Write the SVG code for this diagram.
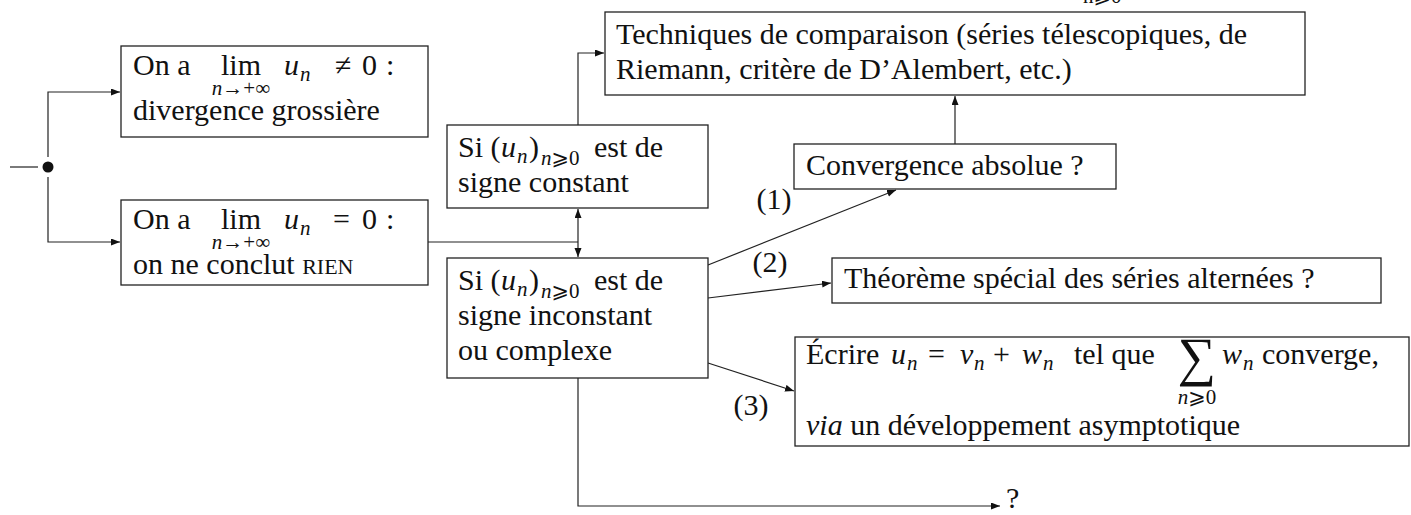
<svg xmlns="http://www.w3.org/2000/svg" width="1411" height="515" viewBox="0 0 1411 515">
<style>
.t{font-family:"Liberation Serif","DejaVu Serif","DejaVu Sans",serif;font-size:30px;fill:#111}
.i{font-style:italic}
.s{font-size:21px}
.box{fill:#fff;stroke:#222;stroke-width:1.3}
.ln{fill:none;stroke:#222;stroke-width:1.2}
.m{text-anchor:middle}
</style>
<defs>
<marker id="ah" markerUnits="userSpaceOnUse" markerWidth="10" markerHeight="8" refX="9" refY="3.5" orient="auto-start-reverse">
<path d="M0,0 L9,3.5 L0,7 z" fill="#111"/>
</marker>
</defs>
<rect width="1411" height="515" fill="#fff"/>

<g id="connectors">
<line class="ln" x1="10" y1="167" x2="38" y2="167"/>
<circle cx="48" cy="167" r="5.5" fill="#111"/>
<polyline class="ln" points="48,157 48,92 120,92" marker-end="url(#ah)"/>
<polyline class="ln" points="48,177 48,242 120,242" marker-end="url(#ah)"/>
<line class="ln" x1="428" y1="242" x2="578" y2="242"/>
<line class="ln" x1="578" y1="209" x2="578" y2="257" marker-start="url(#ah)" marker-end="url(#ah)"/>
<polyline class="ln" points="578,125 578,53 604,53" marker-end="url(#ah)"/>
<line class="ln" x1="955" y1="144" x2="955" y2="96" marker-end="url(#ah)"/>
<line class="ln" x1="708" y1="265" x2="896" y2="190" marker-end="url(#ah)"/>
<line class="ln" x1="708" y1="298" x2="831" y2="283" marker-end="url(#ah)"/>
<line class="ln" x1="708" y1="363" x2="794" y2="391" marker-end="url(#ah)"/>
<polyline class="ln" points="578,378 578,506 1000,506" marker-end="url(#ah)"/>
<text class="t" x="774" y="209" text-anchor="middle">(1)</text>
<text class="t" x="770" y="272" text-anchor="middle">(2)</text>
<text class="t" x="751" y="415" text-anchor="middle">(3)</text>
<text class="t" x="1006" y="508">?</text>
</g>

<text class="t s" x="1083" y="3">n⩾0</text>

<g id="n-div">
<rect class="box" x="121" y="46" width="307" height="91"/>
<text class="t" y="75"><tspan x="133">On a</tspan><tspan x="241" text-anchor="middle">lim</tspan><tspan x="241" y="95" class="s" text-anchor="middle"><tspan class="i">n</tspan>→+∞</tspan><tspan x="284" y="75" class="i">u</tspan><tspan x="300" y="81" class="s i">n</tspan><tspan x="335" y="75">≠</tspan><tspan x="362">0</tspan><tspan x="386">:</tspan><tspan x="133" y="120">divergence grossière</tspan></text>
</g>

<g id="n-zero">
<rect class="box" x="121" y="200" width="307" height="85"/>
<text class="t" y="229"><tspan x="133">On a</tspan><tspan x="241" text-anchor="middle">lim</tspan><tspan x="241" y="249" class="s" text-anchor="middle"><tspan class="i">n</tspan>→+∞</tspan><tspan x="284" y="229" class="i">u</tspan><tspan x="300" y="235" class="s i">n</tspan><tspan x="333" y="229">=</tspan><tspan x="362">0</tspan><tspan x="386">:</tspan><tspan x="133" y="274">on ne conclut <tspan font-size="22">RIEN</tspan></tspan></text>
</g>

<g id="n-const">
<rect class="box" x="447" y="125" width="261" height="83"/>
<text class="t" y="157"><tspan x="458">Si (</tspan><tspan x="501" class="i">u</tspan><tspan x="517" y="163" class="s i">n</tspan><tspan x="529" y="157">)</tspan><tspan x="541" y="165" class="s"><tspan class="i">n</tspan>⩾0</tspan><tspan x="594" y="157">est de</tspan><tspan x="458" y="192">signe constant</tspan></text>
</g>

<g id="n-inconst">
<rect class="box" x="447" y="258" width="261" height="120"/>
<text class="t" y="290"><tspan x="458">Si (</tspan><tspan x="501" class="i">u</tspan><tspan x="517" y="296" class="s i">n</tspan><tspan x="529" y="290">)</tspan><tspan x="541" y="298" class="s"><tspan class="i">n</tspan>⩾0</tspan><tspan x="594" y="290">est de</tspan><tspan x="458" y="325">signe inconstant</tspan><tspan x="458" y="360">ou complexe</tspan></text>
</g>

<g id="n-tech">
<rect class="box" x="605" y="12" width="700" height="83"/>
<text class="t" x="616" y="44">Techniques de comparaison (séries télescopiques, de<tspan x="616" y="79">Riemann, critère de D’Alembert, etc.)</tspan></text>
</g>

<g id="n-abs">
<rect class="box" x="794" y="144" width="322" height="45"/>
<text class="t" x="806" y="175">Convergence absolue ?</text>
</g>

<g id="n-alt">
<rect class="box" x="832" y="258" width="549" height="45"/>
<text class="t" x="844" y="288">Théorème spécial des séries alternées ?</text>
</g>

<g id="n-dev">
<rect class="box" x="795" y="337" width="614" height="109"/>
<text class="t" y="364"><tspan x="806">Écrire</tspan><tspan x="891" class="i">u</tspan><tspan x="907" y="370" class="s i">n</tspan><tspan x="928" y="364">=</tspan><tspan x="960" class="i">v</tspan><tspan x="974" y="370" class="s i">n</tspan><tspan x="993" y="364">+</tspan><tspan x="1022" class="i">w</tspan><tspan x="1043" y="370" class="s i">n</tspan><tspan x="1074" y="364">tel que</tspan><tspan x="1197" y="375" font-size="54" text-anchor="middle">∑</tspan><tspan x="1197" y="404" class="s" text-anchor="middle"><tspan class="i">n</tspan>⩾0</tspan><tspan x="1222" y="364" class="i">w</tspan><tspan x="1243" y="370" class="s i">n</tspan><tspan x="1262" y="364">converge,</tspan><tspan x="806" y="435" class="i">via</tspan><tspan> un développement asymptotique</tspan></text>
</g>
</svg>
